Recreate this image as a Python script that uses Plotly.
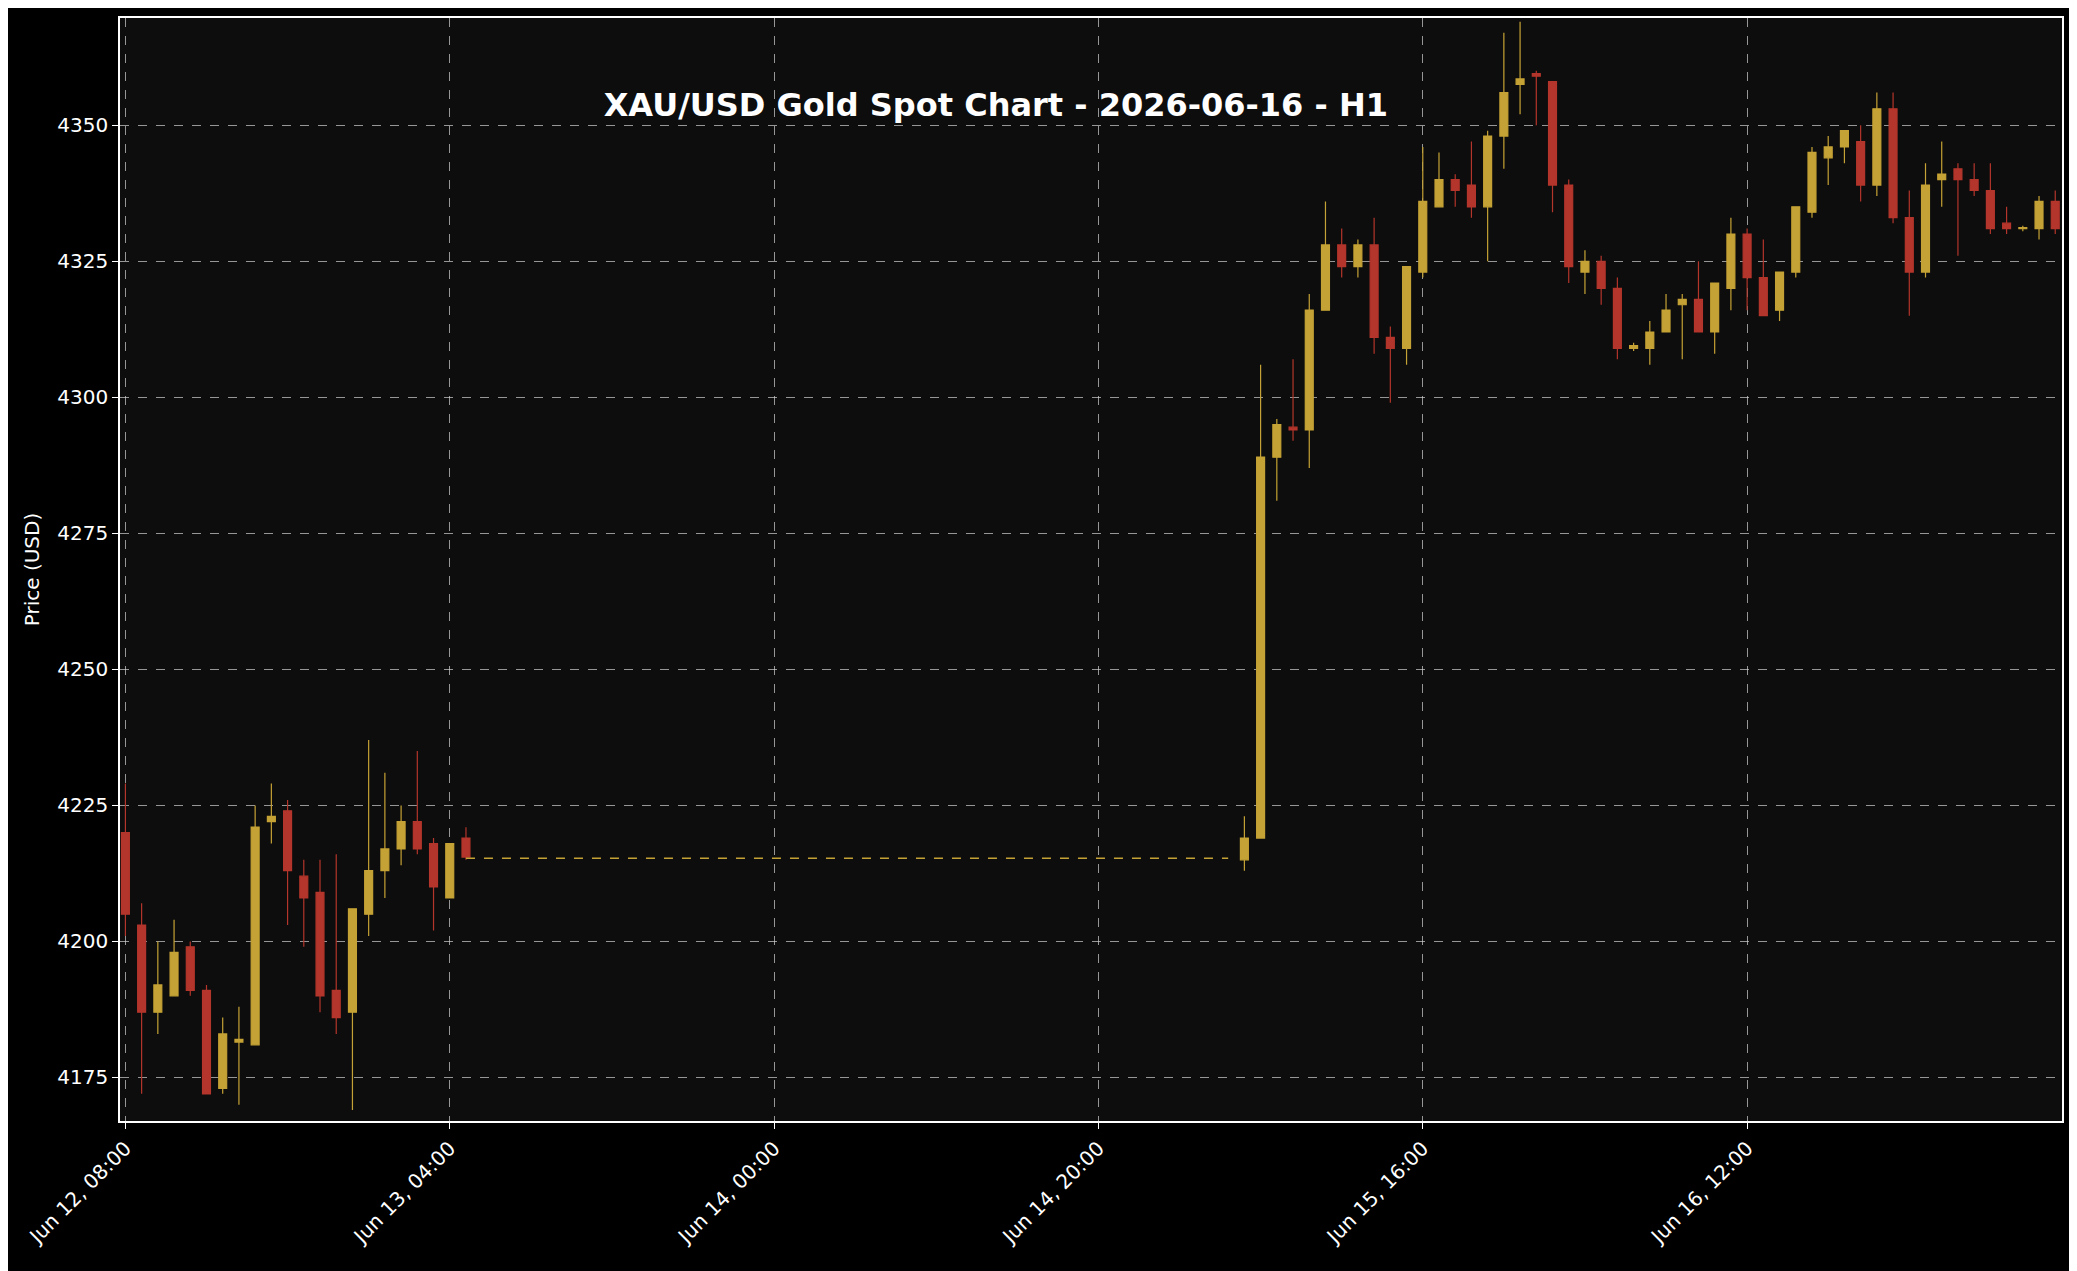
import plotly.graph_objects as go
import pandas as pd

# Hourly OHLC, XAU/USD, Jun 12 08:00 -> Jun 17 07:00 (weekend hours held flat)
start = "2026-06-12 08:00"

# Friday session (Jun 12 08:00 .. Jun 13 05:00)
fri_open = [4220, 4203, 4187, 4190, 4199, 4191, 4173, 4181.5, 4181, 4222, 4224,
            4212, 4209, 4191, 4187, 4205, 4213, 4217, 4222, 4218, 4208, 4219]
fri_high = [4229, 4207, 4200, 4204, 4200, 4192, 4186, 4188, 4225, 4229, 4226,
            4215, 4215, 4216, 4206, 4237, 4231, 4225, 4235, 4219, 4218, 4221]
fri_low = [4201, 4172, 4183, 4190, 4190, 4172, 4172, 4170, 4181, 4218, 4203,
           4199, 4187, 4183, 4169, 4201, 4208, 4214, 4216, 4202, 4208, 4215]
fri_close = [4205, 4187, 4192, 4198, 4191, 4172, 4183, 4182, 4221, 4223, 4213,
             4208, 4190, 4186, 4206, 4213, 4217, 4222, 4217, 4210, 4218, 4215.5]

# Weekend: flat price, hours 21 .. 69 from start
weekend_level = 4215.3
weekend_from_hour = 21
weekend_to_hour = 69

# Week session (Jun 15 05:00 .. Jun 17 07:00)
mon_open = [4215, 4219, 4289, 4294.5, 4294, 4316, 4328, 4324, 4328, 4311, 4309,
            4323, 4335, 4340, 4339, 4335, 4348, 4357.5, 4359.5, 4358, 4339, 4323,
            4325, 4320, 4309, 4309, 4312, 4317, 4318, 4312, 4320, 4330, 4322, 4316,
            4323, 4334, 4344, 4346, 4347, 4339, 4353, 4333, 4323, 4340, 4342, 4340,
            4338, 4332, 4331, 4331, 4336]
mon_high = [4223, 4306, 4296, 4307, 4319, 4336, 4331, 4329, 4333, 4313, 4324,
            4346, 4345, 4341, 4347, 4349, 4367, 4369, 4360, 4358, 4340, 4327,
            4326, 4322, 4310, 4314, 4319, 4319, 4325, 4321, 4333, 4331, 4329, 4323,
            4335, 4346, 4348, 4349, 4350, 4356, 4356, 4338, 4343, 4347, 4343, 4343,
            4343, 4335, 4331.5, 4337, 4338]
mon_low = [4213, 4219, 4281, 4292, 4287, 4316, 4322, 4322, 4308, 4299, 4306,
           4322, 4335, 4335, 4333, 4325, 4342, 4352, 4350, 4334, 4321, 4319,
           4317, 4307, 4308.5, 4306, 4312, 4307, 4312, 4308, 4316, 4316, 4315, 4314,
           4322, 4333, 4339, 4343, 4336, 4337, 4332, 4315, 4322, 4335, 4326, 4337,
           4330, 4330, 4330.5, 4329, 4330]
mon_close = [4219, 4289, 4295, 4294, 4316, 4328, 4324, 4328, 4311, 4309, 4324,
             4336, 4340, 4338, 4335, 4348, 4356, 4358.5, 4359, 4339, 4324, 4325,
             4320, 4309, 4309.5, 4312, 4316, 4318, 4312, 4321, 4330, 4322, 4315, 4323,
             4335, 4345, 4346, 4349, 4339, 4353, 4333, 4323, 4339, 4341, 4340, 4338,
             4331, 4331, 4331.2, 4336, 4331]

UP = "#c5a235"
DOWN = "#b3352b"

t0 = pd.Timestamp(start)
fri_x = pd.date_range(t0, periods=len(fri_open), freq="h")
mon_x = pd.date_range(t0 + pd.Timedelta(hours=weekend_to_hour), periods=len(mon_open), freq="h")
wk_x = [t0 + pd.Timedelta(hours=weekend_from_hour), t0 + pd.Timedelta(hours=weekend_to_hour - 1)]

fig = go.Figure()
candle_style = dict(
    increasing=dict(line=dict(color=UP, width=1.2), fillcolor=UP),
    decreasing=dict(line=dict(color=DOWN, width=1.2), fillcolor=DOWN),
    whiskerwidth=0, showlegend=False,
)
fig.add_trace(go.Candlestick(x=fri_x, open=fri_open, high=fri_high, low=fri_low,
                             close=fri_close, **candle_style))
fig.add_trace(go.Scatter(x=wk_x, y=[weekend_level] * len(wk_x), mode="lines",
                         line=dict(color=UP, width=1.5, dash="dash"), showlegend=False))
fig.add_trace(go.Candlestick(x=mon_x, open=mon_open, high=mon_high, low=mon_low,
                             close=mon_close, **candle_style))

axis_common = dict(
    showgrid=True, gridcolor="rgba(210,210,210,0.7)", griddash="dash", gridwidth=1,
    showline=True, linecolor="white", linewidth=1.5, mirror=True,
    ticks="outside", tickcolor="white", ticklen=6,
    tickfont=dict(color="white", size=20, family="DejaVu Sans"),
    zeroline=False,
)

fig.update_layout(
    width=2077, height=1271,
    paper_bgcolor="black", plot_bgcolor="#0d0d0d",
    margin=dict(l=112, r=23, t=8, b=158),
    font=dict(family="DejaVu Sans", color="white"),
    title=dict(text="<b>XAU/USD Gold Spot Chart - 2026-06-16 - H1</b>",
               xref="paper", x=0.451, xanchor="center", y=0.924, yanchor="middle",
               font=dict(size=32, color="white", family="DejaVu Sans")),
    xaxis=dict(axis_common, type="date", rangeslider=dict(visible=False),
               range=[t0 - pd.Timedelta(minutes=20), t0 + pd.Timedelta(hours=119, minutes=25)],
               tick0=t0, dtick=20 * 3600 * 1000, tickformat="%b %d, %H:%M", tickangle=-45),
    yaxis=dict(axis_common, range=[4167, 4369.7], dtick=25,
               title=dict(text="Price (USD)", font=dict(size=20, color="white"), standoff=12)),
)

fig.write_html("out.html")
